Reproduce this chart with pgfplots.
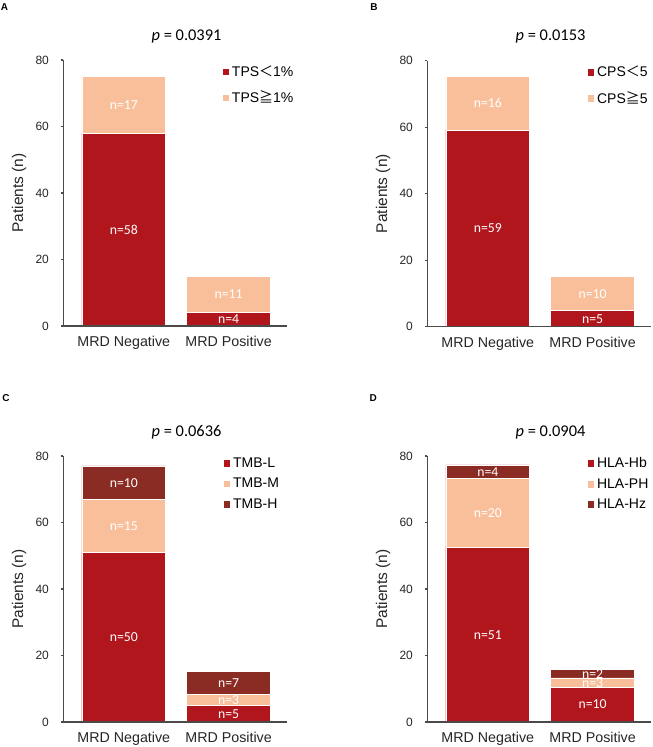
\documentclass[border=0pt]{standalone}
\usepackage{fontspec}
\setmainfont{Liberation Sans}
\newfontfamily\calib{Carlito}
\newfontfamily\cjk{Noto Sans CJK SC}
\usepackage{pgfplots}
\pgfplotsset{compat=1.18}
\definecolor{cR}{HTML}{B1161D}
\definecolor{cP}{HTML}{F9BF9B}
\definecolor{cM}{HTML}{8A2B24}
\definecolor{axg}{HTML}{4A4A4A}
\pgfplotsset{
 panel/.style={
  scale only axis, width=168pt, height=199.5pt,
  xmin=-0.577, xmax=1.56, ymin=0, ymax=80,
  axis x line*=bottom, axis y line*=left,
  axis line style={draw=axg, line width=0.8pt},
  ytick={0,20,40,60,80}, xtick={0,1}, xticklabels={MRD Negative, MRD Positive},
  x tick style={draw=none},
  y tick style={draw=axg, line width=0.8pt},
  tick align=outside, major tick length=1.8pt,
  /pgf/number format/assume math mode=true,
  yticklabel style={font=\fontsize{9}{10}\selectfont, text=black!85, xshift=-5.5pt},
  xticklabel style={font=\fontsize{10.7}{12}\selectfont, text=black!85, yshift=-2.5pt},
  ylabel={Patients (n)},
  every axis y label/.style={at={(axis description cs:-0.197,0.5)}, rotate=90, anchor=center, font=\fontsize{11.6}{13}\selectfont, text=black!85},
  title style={at={(axis description cs:0.55,1)}, anchor=center, yshift=12pt, font=\calib\fontsize{12.3}{14}\selectfont},
  legend image code/.code={\fill[##1, draw=none] (0pt,-2.5pt) rectangle (5pt,2.5pt);},
  legend cell align=left,
  legend style={draw=none, fill=none, anchor=north west, inner sep=0pt, font=\fontsize{10.5}{12}\selectfont},
  axis on top,
 },
 bar/.style={ybar, bar width=0.8, bar shift=0pt, draw=white, line width=0.5pt, forget plot},
 lab/.style={forget plot, draw=none, mark=none, nodes near coords, nodes near coords align=center, point meta=explicit symbolic, every node near coord/.append style={font=\calib\fontsize{10.3}{12}\selectfont, text=white, anchor=center}},
}
\begin{document}
\begin{tikzpicture}
\useasboundingbox (0,0) rectangle (489.75pt,-560.25pt);
% Panel A
\begin{axis}[panel, at={(47.5pt,-244.5pt)}, anchor=south west,
  title={\textit{p} = 0.0391},
  legend style={at={(0.71,0.99)}, row sep=5.5pt}]
\addplot[bar, fill=cP] coordinates {(0,75) (1,15)};
\addplot[bar, fill=cR] coordinates {(0,58) (1,4)};
\addplot[lab] table[meta=lab, row sep=\\] {x y lab\\ 0 29 n=58\\ 0 66.5 n=17\\ 1 2 n=4\\ 1 9.5 n=11\\};
\addlegendimage{fill=cR}\addlegendentry{TPS{\cjk ＜}1\%}
\addlegendimage{fill=cP}\addlegendentry{TPS{\cjk ≧}1\%}
\end{axis}
% Panel B
\begin{axis}[panel, at={(320.5pt,-245pt)}, anchor=south west,
  title={\textit{p} = 0.0153},
  legend style={at={(0.715,0.99)}, row sep=5.5pt}]
\addplot[bar, fill=cP] coordinates {(0,75.2) (1,15)};
\addplot[bar, fill=cR] coordinates {(0,59.1) (1,4.8)};
\addplot[lab] table[meta=lab, row sep=\\] {x y lab\\ 0 29.5 n=59\\ 0 67.2 n=16\\ 1 2.4 n=5\\ 1 9.9 n=10\\};
\addlegendimage{fill=cR}\addlegendentry{CPS{\cjk ＜}5}
\addlegendimage{fill=cP}\addlegendentry{CPS{\cjk ≧}5}
\end{axis}
% Panel C
\begin{axis}[panel, at={(47.5pt,-541.5pt)}, anchor=south west,
  title={\textit{p} = 0.0636},
  legend style={at={(0.715,1.005)}, row sep=2.6pt}]
\addplot[bar, fill=cM] coordinates {(0,77.0) (1,15.3)};
\addplot[bar, fill=cP] coordinates {(0,66.9) (1,8.2)};
\addplot[bar, fill=cR] coordinates {(0,51.1) (1,5.0)};
\addplot[lab] table[meta=lab, row sep=\\] {x y lab\\ 0 25.5 n=50\\ 0 59 n=15\\ 0 72 n=10\\ 1 2.5 n=5\\ 1 6.6 n=3\\ 1 11.8 n=7\\};
\addlegendimage{fill=cR}\addlegendentry{TMB-L}
\addlegendimage{fill=cP}\addlegendentry{TMB-M}
\addlegendimage{fill=cM}\addlegendentry{TMB-H}
\end{axis}
% Panel D
\begin{axis}[panel, at={(320.5pt,-541.5pt)}, anchor=south west,
  title={\textit{p} = 0.0904},
  legend style={at={(0.715,1.005)}, row sep=2.6pt}]
\addplot[bar, fill=cM] coordinates {(0,77.3) (1,15.7)};
\addplot[bar, fill=cP] coordinates {(0,73.3) (1,13.25)};
\addplot[bar, fill=cR] coordinates {(0,52.4) (1,10.4)};
\addplot[lab] table[meta=lab, row sep=\\] {x y lab\\ 0 26.2 n=51\\ 0 62.9 n=20\\ 0 75.3 n=4\\ 1 5.3 n=10\\ 1 11.8 n=3\\ 1 14.5 n=2\\};
\addlegendimage{fill=cR}\addlegendentry{HLA-Hb}
\addlegendimage{fill=cP}\addlegendentry{HLA-PH}
\addlegendimage{fill=cM}\addlegendentry{HLA-Hz}
\end{axis}
\node[font=\bfseries\fontsize{7.5}{9}\selectfont, anchor=north west, inner sep=0pt] at (0.5pt,-2.5pt) {A};
\node[font=\bfseries\fontsize{7.5}{9}\selectfont, anchor=north west, inner sep=0pt] at (277.5pt,-2.5pt) {B};
\node[font=\bfseries\fontsize{7.5}{9}\selectfont, anchor=north west, inner sep=0pt] at (1.5pt,-296pt) {C};
\node[font=\bfseries\fontsize{7.5}{9}\selectfont, anchor=north west, inner sep=0pt] at (277pt,-296pt) {D};
\end{tikzpicture}
\end{document}
